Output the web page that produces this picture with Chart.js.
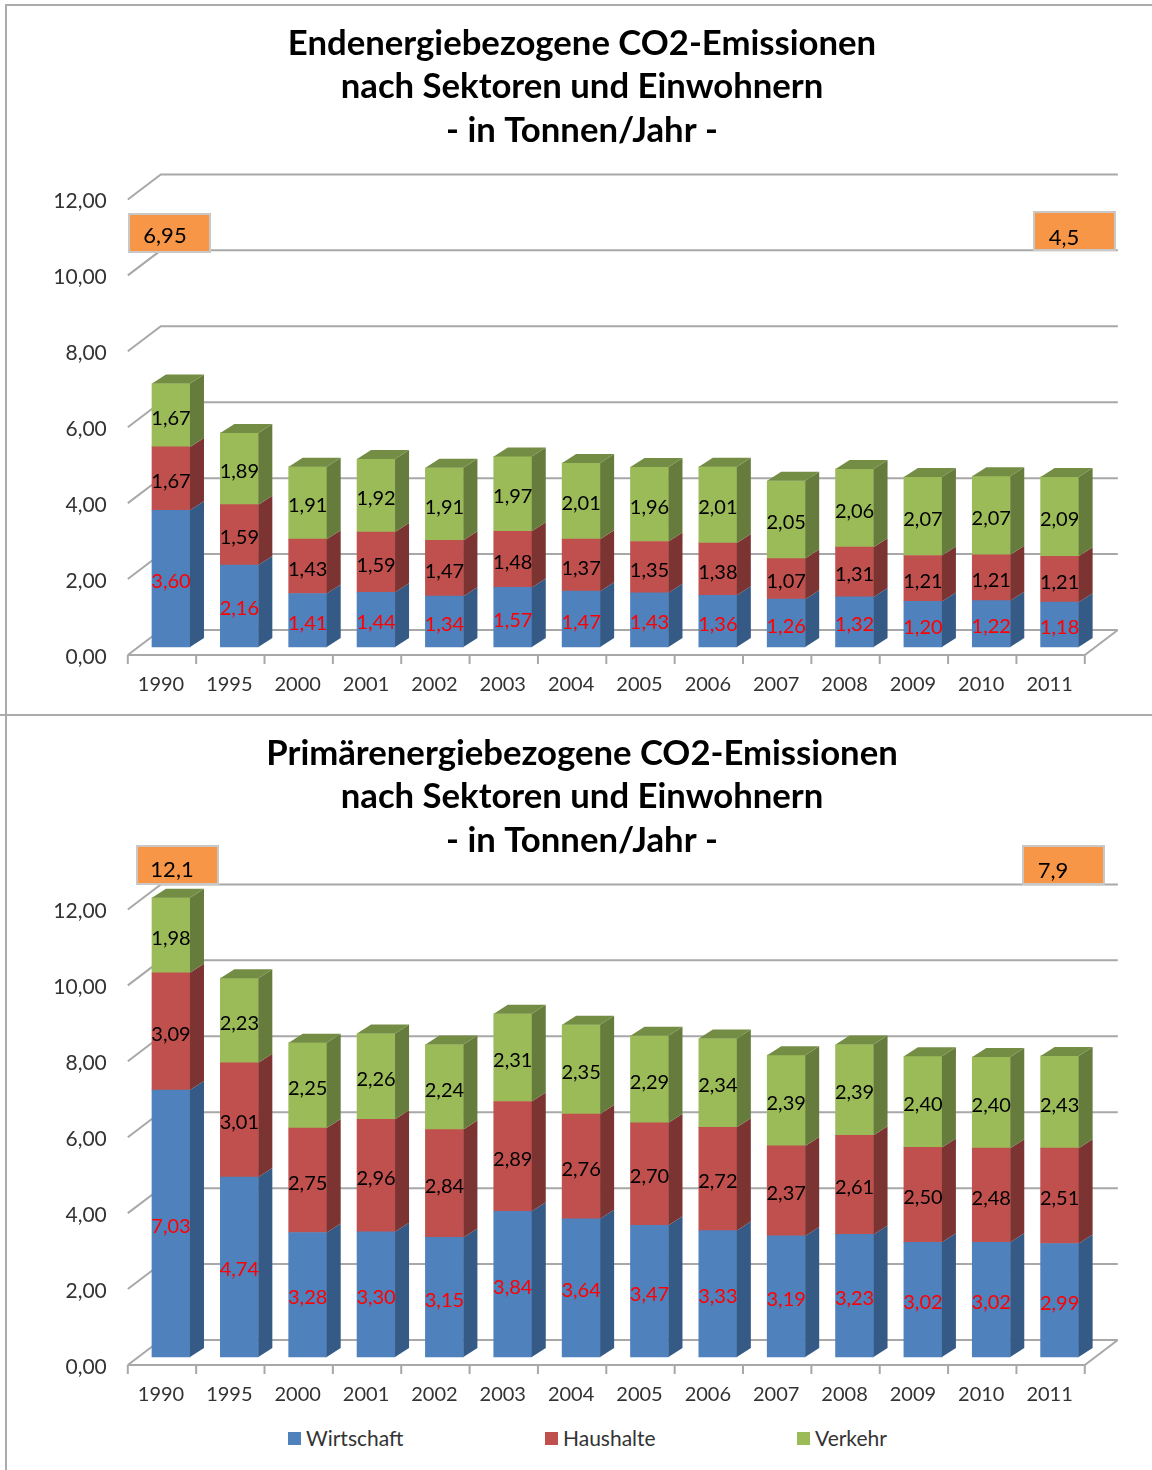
<!DOCTYPE html>
<html lang="de">
<head>
<meta charset="utf-8">
<title>CO2-Emissionen nach Sektoren</title>
<script src="https://cdn.jsdelivr.net/npm/chart.js@4"></script>
<style>
    html, body { margin: 0; padding: 0; background: #fff; overflow: hidden; }
    #page { position: relative; width: 1152px; height: 1470px; }
    canvas { position: absolute; left: 0; }
    .rule { position: absolute; background: #ababab; }
    .legend-item { position: absolute; top: 1425px; font: 21px Lato, sans-serif; line-height: 25px; color: #333; white-space: nowrap; }
    .legend-item i { position: absolute; left: -18px; top: 7px; width: 13px; height: 13px; }
</style>
</head>
<body>
<div id="page">
    <div class="rule" style="left:5px;top:4px;width:2px;height:1466px"></div>
    <div class="rule" style="left:5px;top:4px;width:1147px;height:2px"></div>
    <div class="rule" style="left:0;top:714px;width:1152px;height:2px"></div>
    <canvas id="chart-end" width="1152" height="710" style="top:0"></canvas>
    <canvas id="chart-prim" width="1152" height="710" style="top:710px"></canvas>
    <div id="legend"></div>
</div>
<script>
const years = ['1990','1995','2000','2001','2002','2003','2004','2005','2006','2007','2008','2009','2010','2011'];
const seriesNames = ['Wirtschaft', 'Haushalte', 'Verkehr'];

const endWirtschaft = [3.60,2.16,1.41,1.44,1.34,1.57,1.47,1.43,1.36,1.26,1.32,1.20,1.22,1.18];
const endHaushalte = [1.67,1.59,1.43,1.59,1.47,1.48,1.37,1.35,1.38,1.07,1.31,1.21,1.21,1.21];
const endVerkehr = [1.67,1.89,1.91,1.92,1.91,1.97,2.01,1.96,2.01,2.05,2.06,2.07,2.07,2.09];

const primWirtschaft = [7.03,4.74,3.28,3.30,3.15,3.84,3.64,3.47,3.33,3.19,3.23,3.02,3.02,2.99];
const primHaushalte = [3.09,3.01,2.75,2.96,2.84,2.89,2.76,2.70,2.72,2.37,2.61,2.50,2.48,2.51];
const primVerkehr = [1.98,2.23,2.25,2.26,2.24,2.31,2.35,2.29,2.34,2.39,2.39,2.40,2.40,2.43];

const endTitle = ['Endenergiebezogene CO2-Emissionen', 'nach Sektoren und Einwohnern', '- in Tonnen/Jahr -'];
const primTitle = ['Primärenergiebezogene CO2-Emissionen', 'nach Sektoren und Einwohnern', '- in Tonnen/Jahr -'];

const FRONT = ['#4f81bd', '#c0504d', '#9bbb59'];
const SIDE = ['#345a85', '#7b3431', '#667c3d'];
const TOP_FACE = '#748d45';
const GRID = '#a8a8a8';
const FONT = 'Lato, sans-serif';

// bar depth and wall depth, in px
const BAR_DX = 14, BAR_DY = 9;
const FLOOR_DX = 9, FLOOR_DY = 8;
const WALL_DX = 33, WALL_DY = 25;

function comma(v) { return v.toFixed(2).replace('.', ','); }

function quad(ctx, pts, color) {
    ctx.fillStyle = color;
    ctx.beginPath();
    pts.forEach((p, i) => i ? ctx.lineTo(p[0], p[1]) : ctx.moveTo(p[0], p[1]));
    ctx.closePath();
    ctx.fill();
}

// Back wall, side wall and floor of the 3D box
const wallPlugin = {
    id: 'wall',
    // the y labels hang left of the padding, keep them from being clipped
    afterLayout(chart) { chart.scales.y.left = 30; },
    beforeDatasetsDraw(chart) {
        const { ctx, scales: { x, y } } = chart;
        const step = x.getPixelForTick(1) - x.getPixelForTick(0);
        const left = x.getPixelForTick(0) - step / 2 - FLOOR_DX;
        const right = left + step * years.length;
        const zero = y.getPixelForValue(0) + FLOOR_DY;
        ctx.save();
        ctx.strokeStyle = GRID;
        ctx.lineWidth = 2;
        ctx.beginPath();
        y.ticks.forEach(t => {
            const py = y.getPixelForValue(t.value) + FLOOR_DY;
            ctx.moveTo(left, py);
            ctx.lineTo(left + WALL_DX, py - WALL_DY);
            ctx.lineTo(right + WALL_DX, py - WALL_DY);
        });
        ctx.moveTo(left, zero);
        ctx.lineTo(right, zero);
        ctx.lineTo(right + WALL_DX, zero - WALL_DY);
        for (let i = 0; i <= years.length; i++) {
            ctx.moveTo(left + step * i, zero);
            ctx.lineTo(left + step * i, zero + 9);
        }
        ctx.stroke();
        ctx.restore();
    },
};

// Side and top faces of the bars, value labels, orange total boxes
const barPlugin = {
    id: 'bars3d',
    afterDatasetsDraw(chart, args, opts) {
        const ctx = chart.ctx;
        const last = chart.data.datasets.length - 1;
        ctx.save();
        chart.data.datasets.forEach((ds, d) => {
            chart.getDatasetMeta(d).data.forEach(bar => {
                const r = bar.x + bar.width / 2, l = bar.x - bar.width / 2;
                quad(ctx, [[r, bar.y], [r + BAR_DX, bar.y - BAR_DY], [r + BAR_DX, bar.base - BAR_DY], [r, bar.base]], SIDE[d]);
                if (d === last) {
                    quad(ctx, [[l, bar.y], [l + BAR_DX, bar.y - BAR_DY], [r + BAR_DX, bar.y - BAR_DY], [r, bar.y]], TOP_FACE);
                }
            });
        });
        ctx.textAlign = 'center';
        ctx.textBaseline = 'middle';
        ctx.font = '20px ' + FONT;
        chart.data.datasets.forEach((ds, d) => {
            ctx.fillStyle = d === 0 ? '#ff0000' : '#000';
            chart.getDatasetMeta(d).data.forEach((bar, i) => {
                ctx.fillText(comma(ds.data[i]), bar.x, (bar.y + bar.base) / 2 + 3);
            });
        });
        opts.boxes.forEach(b => {
            ctx.fillStyle = '#f79646';
            ctx.fillRect(b.x, b.y, 81, 38);
            ctx.strokeStyle = '#c8c8c8';
            ctx.lineWidth = 2;
            ctx.strokeRect(b.x, b.y, 81, 38);
            ctx.fillStyle = '#000';
            ctx.font = '22px ' + FONT;
            ctx.fillText(b.text, b.x + b.tx, b.y + b.ty);
        });
        ctx.restore();
    },
};

function makeChart(id, title, series, boxes) {
    new Chart(document.getElementById(id), {
        type: 'bar',
        data: {
            labels: years,
            datasets: series.map((values, i) => ({
                label: seriesNames[i],
                data: values,
                backgroundColor: FRONT[i],
                barThickness: 38,
                borderWidth: 0,
                stack: 'co2',
                clip: false, // the 12,10 bar rises past the top of the axis
            })),
        },
        plugins: [wallPlugin, barPlugin],
        options: {
            responsive: false,
            animation: false,
            layout: { padding: { left: 70.2, right: 58.2, top: 0, bottom: 0 } },
            plugins: {
                legend: { display: false },
                tooltip: { enabled: false },
                title: {
                    display: true,
                    text: title,
                    color: '#000',
                    font: { family: FONT, size: 34.7, weight: 'bold', lineHeight: 1.254 },
                    padding: { top: 22, bottom: 38.9 },
                },
                bars3d: { boxes },
            },
            scales: {
                x: {
                    stacked: true,
                    grid: { display: false },
                    border: { display: false },
                    afterFit(s) { s.height = 63; },
                    ticks: {
                        color: '#333',
                        autoSkip: false,
                        maxRotation: 0,
                        labelOffset: -10,
                        padding: 18,
                        font: { family: FONT, size: 20 },
                    },
                },
                y: {
                    stacked: true,
                    min: 0,
                    max: 12,
                    grid: { display: false },
                    border: { display: false },
                    afterFit(s) { s.width = 66.6; },
                    ticks: {
                        stepSize: 2,
                        color: '#333',
                        padding: 22,
                        labelOffset: 10,
                        font: { family: FONT, size: 21 },
                        callback: v => comma(v),
                    },
                },
            },
        },
    });
}

makeChart('chart-end', endTitle, [endWirtschaft, endHaushalte, endVerkehr], [
    { text: '6,95', x: 129, y: 214, tx: 36, ty: 22 },
    { text: '4,5', x: 1034, y: 212, tx: 30, ty: 26 },
]);
makeChart('chart-prim', primTitle, [primWirtschaft, primHaushalte, primVerkehr], [
    { text: '12,1', x: 137, y: 136, tx: 35, ty: 24 },
    { text: '7,9', x: 1023, y: 136, tx: 30, ty: 25 },
]);

// Legend
const legendLeft = [306, 563, 815];
document.getElementById('legend').innerHTML = seriesNames.map((name, i) =>
    `<div class="legend-item" style="left:${legendLeft[i]}px"><i style="background:${FRONT[i]}"></i>${name}</div>`
).join('');
</script>
</body>
</html>
